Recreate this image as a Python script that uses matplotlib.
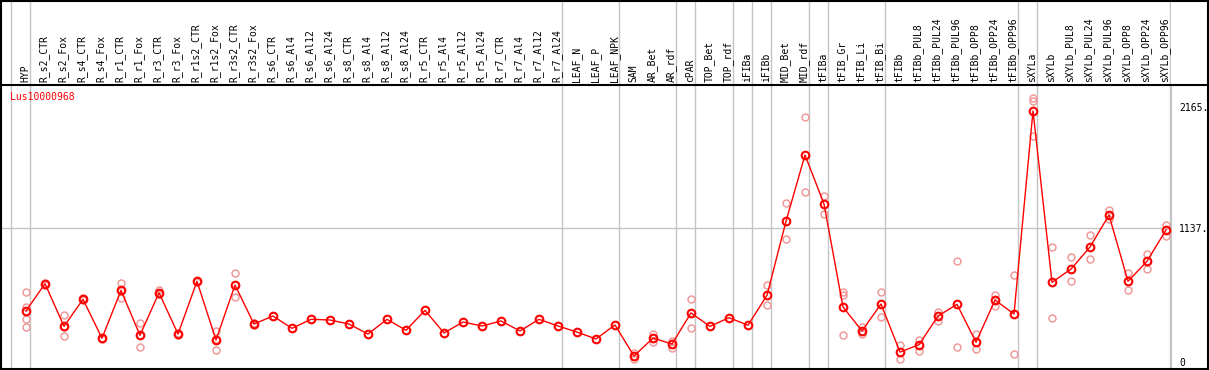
import matplotlib
matplotlib.use('Agg')
import matplotlib.pyplot as plt
from matplotlib.lines import Line2D

# Nombres de las muestras (columnas)
labels = ['HYP', 'R_s2_CTR', 'R_s2_Fox', 'R_s4_CTR', 'R_s4_Fox', 'R_r1_CTR', 'R_r1_Fox',
          'R_r3_CTR', 'R_r3_Fox', 'R_r1s2_CTR', 'R_r1s2_Fox', 'R_r3s2_CTR', 'R_r3s2_Fox',
          'R_s6_CTR', 'R_s6_Al4', 'R_s6_Al12', 'R_s6_Al24', 'R_s8_CTR', 'R_s8_Al4',
          'R_s8_Al12', 'R_s8_Al24', 'R_r5_CTR', 'R_r5_Al4', 'R_r5_Al12', 'R_r5_Al24',
          'R_r7_CTR', 'R_r7_Al4', 'R_r7_Al12', 'R_r7_Al24', 'LEAF_N', 'LEAF_P', 'LEAF_NPK',
          'SAM', 'AR_Bet', 'AR_rdf', 'cPAR', 'TOP_Bet', 'TOP_rdf', 'iFIBa', 'iFIBb',
          'MID_Bet', 'MID_rdf', 'tFIBa', 'tFIB_Gr', 'tFIB_Li', 'tFIB_Bi', 'tFIBb',
          'tFIBb_PUL8', 'tFIBb_PUL24', 'tFIBb_PUL96', 'tFIBb_OPP8', 'tFIBb_OPP24',
          'tFIBb_OPP96', 'sXYLa', 'sXYLb', 'sXYLb_PUL8', 'sXYLb_PUL24', 'sXYLb_PUL96',
          'sXYLb_OPP8', 'sXYLb_OPP24', 'sXYLb_OPP96']

# Valor medio por muestra
means = [432, 664, 301, 531, 200, 607, 225, 587, 236, 684, 185, 652, 321,
         389, 284, 361, 355, 321, 236, 361, 268, 437, 245, 338, 304,
         347, 262, 361, 304, 253, 194, 313,
         49, 202, 151, 415, 301, 375, 310, 565,
         1194, 1757, 1341, 466, 262, 491, 83,
         145, 389, 488, 166, 525, 406,
         2131, 675, 788, 975, 1247, 684, 854, 1120]

# Replicas por muestra
reps = [[590, 468, 361, 293], [655, 672], [395, 217, 295], [525, 538], [195, 206],
        [669, 545, 605], [327, 123, 226], [613, 573, 578], [228, 244], [680, 690],
        [262, 100, 190], [752, 553, 650], [312, 330],
        [], [], [], [], [], [], [], [], [], [], [], [], [], [], [], [], [], [], [],
        [72, 26], [234, 168], [179, 120], [531, 284], [], [], [], [652, 480],
        [1347, 1041], [2080, 1440], [1409, 1253], [596, 568, 228], [298, 234],
        [593, 381], [143, 21],
        [188, 94], [420, 349], [856, 126], [234, 109], [568, 474], [735, 66],
        [2239, 2216, 1921], [973, 370], [890, 684], [1077, 873], [1287, 1211],
        [757, 607], [916, 786], [1165, 1071]]

# Primera columna de cada grupo
group_starts = [0, 1, 29, 32, 35, 36, 38, 39, 40, 42, 43, 46, 53, 54, 61]

yticks = [0, 1137, 2165]
ytick_labels = ['0', '1137.', '2165.']
gene = 'Lus10000968'

W, H = 1209, 370
mono = 'DejaVu Sans Mono'
gris = '#c4c4c4'
fs = 7

fig = plt.figure(figsize=(W / 100, H / 100), dpi=100)
ax = fig.add_axes([1 / W, 2 / H, 1170 / W, 283 / H])
axl = fig.add_axes([1 / W, 285 / H, 1170 / W, 85 / H], sharex=ax)

x = list(range(len(labels)))

# Replicas
rx = [i for i, r in enumerate(reps) for v in r]
ry = [v for r in reps for v in r]
ax.plot(rx, ry, linestyle='None', marker='o', markersize=5, markerfacecolor='none',
        markeredgecolor='#ef9a9a', markeredgewidth=1.1, zorder=2)

# Medias
ax.plot(x, means, color='red', linewidth=1, marker='o', markersize=5.5,
        markerfacecolor='none', markeredgecolor='red', markeredgewidth=1.5, zorder=3)

ax.set_xlim(-25 / 19, 1145 / 19)
ax.set_ylim(-52.7, 2351.7)

for k in group_starts:
    ax.axvline(k - 0.79, color=gris, linewidth=1, zorder=1)
    axl.axvline(k - 0.79, color=gris, linewidth=1, zorder=1)
ax.axhline(1137, color=gris, linewidth=1, zorder=1)

ax.yaxis.tick_right()
ax.set_yticks(yticks)
ax.set_yticklabels(ytick_labels, family=mono, fontsize=fs)
ax.tick_params(axis='y', length=0, pad=6)
ax.set_xticks([])
for s in ['left', 'top', 'bottom']:
    ax.spines[s].set_visible(False)
ax.spines['right'].set_color(gris)

ax.text(9 / 1170, (368 - 97) / 283, gene, transform=ax.transAxes, color='red',
        family=mono, fontsize=fs, va='center', ha='left')

# Etiquetas de columnas
axl.axis('off')
axl.set_ylim(0, 1)
for i, lab in enumerate(labels):
    axl.text(i - 0.05, 0.03, lab, rotation=90, ha='center', va='bottom',
             family=mono, fontsize=fs)

# Marco
lw = 1.5
fig.add_artist(Line2D([0, 1], [1 - 0.5 / H, 1 - 0.5 / H], color='k', lw=lw, transform=fig.transFigure))
fig.add_artist(Line2D([0, 1], [1.5 / H, 1.5 / H], color='k', lw=lw, transform=fig.transFigure))
fig.add_artist(Line2D([0, 1], [285 / H, 285 / H], color='k', lw=lw, transform=fig.transFigure))
fig.add_artist(Line2D([1 / W, 1 / W], [0, 1], color='k', lw=lw, transform=fig.transFigure))
fig.add_artist(Line2D([1 - 1 / W, 1 - 1 / W], [0, 1], color='k', lw=lw, transform=fig.transFigure))

fig.savefig('out.png', dpi=100)
